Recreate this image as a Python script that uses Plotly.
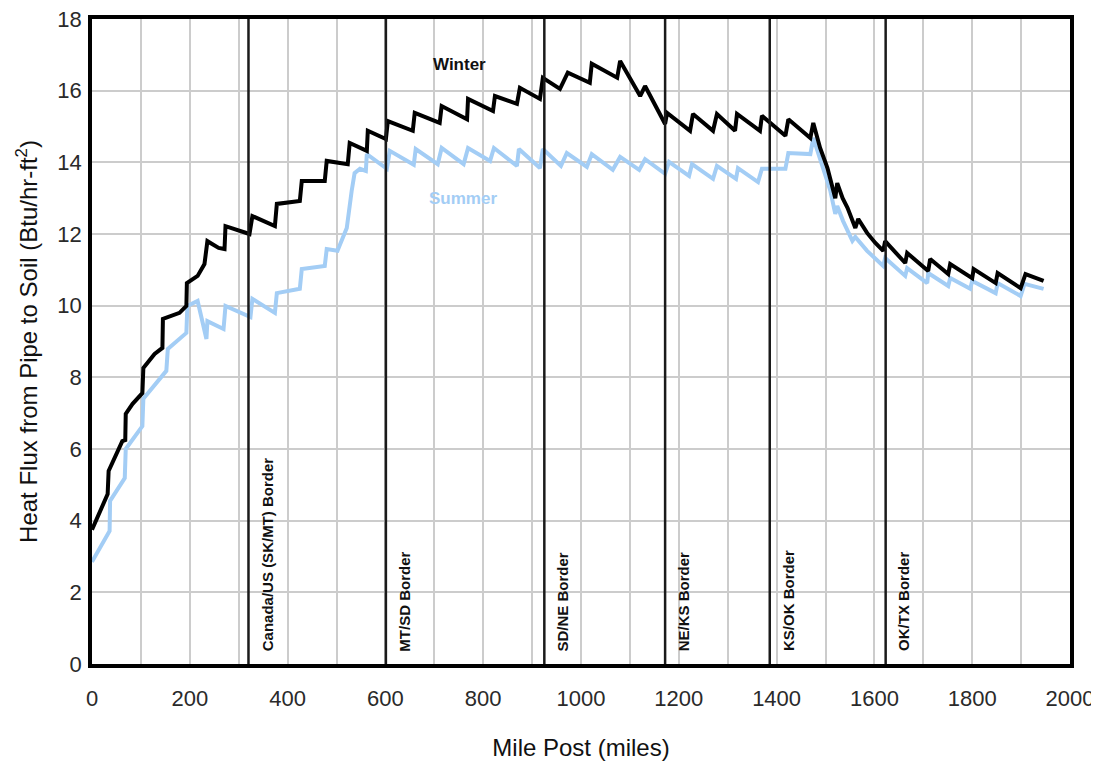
import plotly.graph_objects as go

# ---- data ----
winter_mile = [0, 32, 34, 46, 62, 68, 69, 83, 103, 105, 128, 144, 145, 179, 193, 194, 216, 230, 236,
               259, 271, 273, 322, 328, 374, 378, 425, 429, 476, 480, 523, 527, 562, 564, 601, 605,
               656, 660, 711, 715, 767, 769, 820, 824, 869, 875, 916, 922, 957, 973, 1018, 1022,
               1074, 1080, 1121, 1131, 1172, 1176, 1223, 1229, 1270, 1278, 1315, 1319, 1366, 1370,
               1418, 1424, 1469, 1475, 1489, 1504, 1520, 1524, 1535, 1545, 1561, 1567, 1585, 1602,
               1618, 1622, 1639, 1663, 1667, 1710, 1714, 1751, 1755, 1800, 1803, 1848, 1852, 1899,
               1909, 1946]
winter_flux = [3.75, 4.74, 5.39, 5.75, 6.22, 6.25, 6.98, 7.26, 7.56, 8.26, 8.65, 8.82, 9.63, 9.80, 9.99,
               10.63, 10.83, 11.16, 11.80, 11.61, 11.58, 12.22, 12.00, 12.50, 12.22, 12.84, 12.92,
               13.48, 13.48, 14.04, 13.95, 14.54, 14.32, 14.88, 14.65, 15.15, 14.88, 15.38, 15.10,
               15.57, 15.20, 15.77, 15.43, 15.85, 15.63, 16.08, 15.77, 16.36, 16.05, 16.50, 16.22,
               16.75, 16.36, 16.83, 15.85, 16.13, 15.07, 15.38, 14.88, 15.35, 14.88, 15.35, 14.88,
               15.35, 14.88, 15.30, 14.74, 15.20, 14.68, 15.10, 14.40, 13.84, 13.00, 13.42, 13.00,
               12.73, 12.17, 12.42, 12.03, 11.75, 11.53, 11.80, 11.53, 11.19, 11.47, 10.97, 11.30,
               10.88, 11.16, 10.77, 11.02, 10.63, 10.91, 10.49, 10.88, 10.69]

summer_mile = [0, 36, 37, 67, 69, 103, 105, 152, 155, 193, 195, 216, 234, 236, 269, 273, 324, 328,
               374, 378, 425, 429, 476, 480, 502, 521, 531, 537, 548, 560, 562, 603, 609, 658, 662,
               707, 715, 760, 769, 814, 822, 869, 873, 916, 922, 959, 971, 1012, 1022, 1065, 1080,
               1119, 1131, 1172, 1180, 1221, 1227, 1270, 1278, 1317, 1321, 1362, 1370, 1418, 1424,
               1469, 1475, 1495, 1510, 1520, 1524, 1536, 1555, 1561, 1585, 1618, 1622, 1663, 1667,
               1708, 1710, 1751, 1755, 1796, 1800, 1848, 1852, 1899, 1907, 1946]
summer_flux = [2.85, 3.71, 4.55, 5.19, 6.00, 6.64, 7.40, 8.18, 8.79, 9.24, 9.99, 10.13, 9.07, 9.57,
               9.35, 9.99, 9.68, 10.19, 9.80, 10.35, 10.47, 11.02, 11.11, 11.58, 11.53, 12.17, 13.20,
               13.70, 13.82, 13.76, 14.23, 13.82, 14.32, 13.93, 14.37, 13.95, 14.40, 13.95, 14.40,
               14.04, 14.40, 13.90, 14.37, 13.84, 14.37, 13.90, 14.26, 13.87, 14.23, 13.79, 14.15,
               13.79, 14.09, 13.68, 14.01, 13.62, 13.95, 13.54, 13.90, 13.54, 13.84, 13.45, 13.82,
               13.82, 14.26, 14.23, 14.68, 13.84, 13.20, 12.56, 12.78, 12.36, 11.81, 11.92, 11.53,
               11.11, 11.33, 10.83, 11.05, 10.63, 10.91, 10.55, 10.77, 10.47, 10.69, 10.35, 10.63,
               10.27, 10.61, 10.47]

border_mile = [320, 601, 925, 1172, 1386, 1623]
border_label = ["Canada/US (SK/MT) Border", "MT/SD Border", "SD/NE Border",
                "NE/KS Border", "KS/OK Border", "OK/TX Border"]

x_ticks = [0, 200, 400, 600, 800, 1000, 1200, 1400, 1600, 1800, 2000]
y_ticks = [0, 2, 4, 6, 8, 10, 12, 14, 16, 18]

WINTER_COLOR = "#000000"
SUMMER_COLOR = "#a3cdf5"
FONT = "Liberation Sans, Arial, sans-serif"
TICK_FONT = "Liberation Sans, Arial, sans-serif"

fig = go.Figure()

fig.add_trace(go.Scatter(x=summer_mile, y=summer_flux, mode="lines",
                         line=dict(color=SUMMER_COLOR, width=4), name="Summer",
                         showlegend=False))
fig.add_trace(go.Scatter(x=winter_mile, y=winter_flux, mode="lines",
                         line=dict(color=WINTER_COLOR, width=4), name="Winter",
                         showlegend=False))

shapes = []
annotations = []
for m, lab in zip(border_mile, border_label):
    shapes.append(dict(type="line", xref="x", yref="paper", x0=m, x1=m, y0=0, y1=1,
                       line=dict(color="#1a1a1a", width=2.5), layer="above"))
    annotations.append(dict(x=m, y=0.3, xref="x", yref="y", text=lab, textangle=-90,
                            showarrow=False, xanchor="left", yanchor="bottom",
                            xshift=8, font=dict(family=FONT, size=15, color="#111111",
                                                weight="bold")))

annotations.append(dict(x=752, y=16.72, xref="x", yref="y", text="Winter", showarrow=False,
                        font=dict(family=FONT, size=17, color="#111111", weight="bold")))
annotations.append(dict(x=758, y=12.98, xref="x", yref="y", text="Summer", showarrow=False,
                        font=dict(family=FONT, size=17, color=SUMMER_COLOR, weight="bold")))

fig.update_layout(
    width=1091, height=757,
    margin=dict(l=84, r=29, t=11, b=101, autoexpand=False),
    paper_bgcolor="white", plot_bgcolor="white",
    font=dict(family=FONT, size=16, color="#222222"),
    shapes=shapes, annotations=annotations,
    showlegend=False,
)

fig.update_xaxes(range=[0, 2000], tickvals=x_ticks, ticktext=[str(v) for v in x_ticks],
                 showgrid=True, gridcolor="#cccccc", gridwidth=1.5,
                 minor=dict(dtick=100, showgrid=True, gridcolor="#cccccc", gridwidth=1.5),
                 showline=True, linecolor="black", linewidth=3.5, mirror=True,
                 ticks="", ticklabelstandoff=12, zeroline=False, automargin=False,
                 ticklabeloverflow="allow",
                 tickfont=dict(family=TICK_FONT, size=22, color="#2a2a2a"),
                 title=dict(text="Mile Post (miles)", standoff=30,
                            font=dict(family=FONT, size=24, color="#111111")))
fig.update_yaxes(range=[0, 18], tickvals=y_ticks, ticktext=[str(v) for v in y_ticks],
                 showgrid=True, gridcolor="#cccccc", gridwidth=1.5,
                 showline=True, linecolor="black", linewidth=3.5, mirror=True,
                 ticks="", ticklabelstandoff=2, zeroline=False, automargin=False,
                 ticklabeloverflow="allow",
                 tickfont=dict(family=TICK_FONT, size=22, color="#2a2a2a"),
                 title=dict(text="Heat Flux from Pipe to Soil (Btu/hr-ft<sup>2</sup>)", standoff=14,
                            font=dict(family=FONT, size=24, color="#111111")))

fig.write_html("out.html")
